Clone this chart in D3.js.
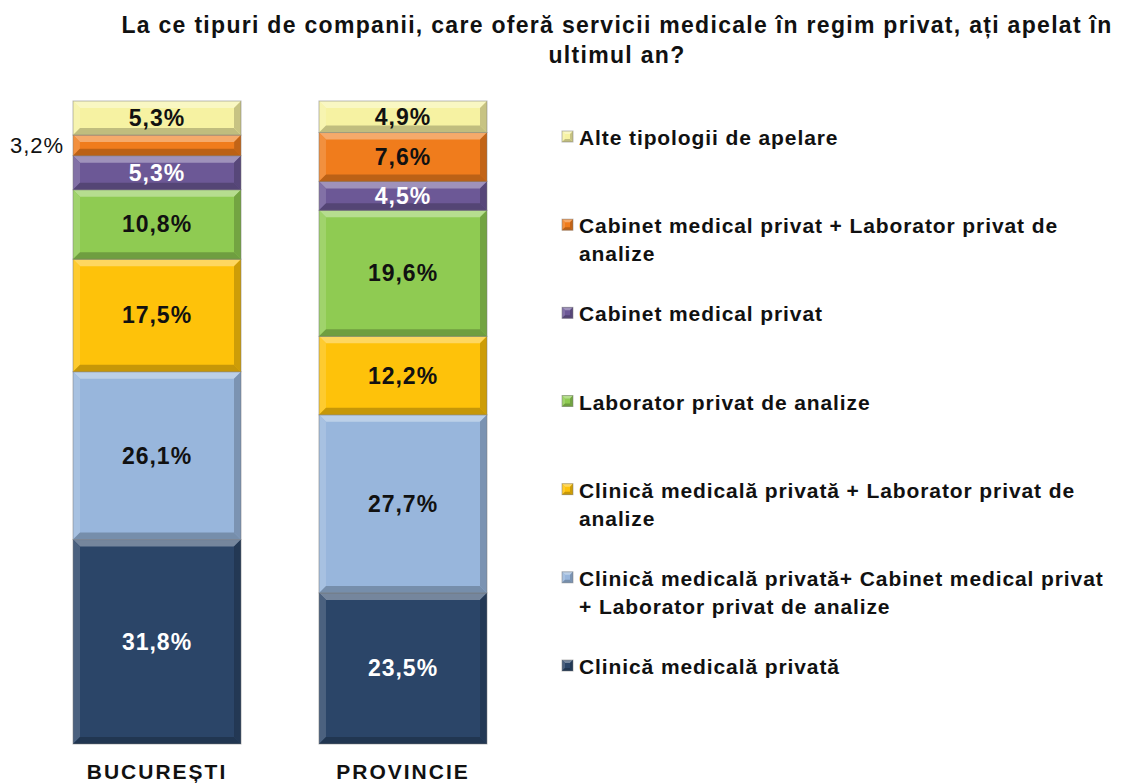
<!DOCTYPE html>
<html>
<head>
<meta charset="utf-8">
<script src="https://cdn.jsdelivr.net/npm/d3@7"></script>
<style>
  body { margin: 0; background: #fff; }
  text { font-family: "Liberation Sans", Arial, sans-serif; }
</style>
</head>
<body>
<svg id="chart" width="1133" height="784"></svg>
<script>
// data
const regions = ["BUCUREȘTI", "PROVINCIE"];
const seriesNames = [
  "Clinică medicală privată",
  "Clinică medicală privată+ Cabinet medical privat\n+ Laborator privat de analize",
  "Clinică medicală privată + Laborator privat de\nanalize",
  "Laborator privat de analize",
  "Cabinet medical privat",
  "Cabinet medical privat + Laborator privat de\nanalize",
  "Alte tipologii de apelare"
];
const bucuresti = [31.8, 26.1, 17.5, 10.8, 5.3, 3.2, 5.3];
const provincie = [23.5, 27.7, 12.2, 19.6, 4.5, 7.6, 4.9];

const colors = ["#2b4568", "#98b6dc", "#fec20a", "#8fcb52", "#6c5896", "#f07c1c", "#f6f2a2"];
const labelColors = ["#fff", "#111", "#111", "#111", "#fff", "#111", "#111"];

const svg = d3.select("#chart");

const rows = regions.map((r, i) => {
  const o = { region: r };
  seriesNames.forEach((s, j) => { o[s] = (i === 0 ? bucuresti : provincie)[j]; });
  return o;
});
const stacked = d3.stack().keys(seriesNames)(rows);

const x = d3.scaleBand().domain(regions).range([73, 487]).paddingInner(0.317).paddingOuter(0);
const y = d3.scaleLinear().domain([0, 100]).range([744, 101]);

// title
svg.append("text")
  .attr("x", 617).attr("y", 33)
  .attr("text-anchor", "middle")
  .style("font-size", "23px").style("font-weight", "bold")
  .style("letter-spacing", "1.3px")
  .attr("fill", "#111")
  .selectAll("tspan")
  .data(["La ce tipuri de companii, care oferă servicii medicale în regim privat, ați apelat în", "ultimul an?"])
  .join("tspan")
  .attr("x", 617).attr("dy", (d, i) => i ? 30 : 0)
  .text(d => d);

// beveled box
const bevel = (g, x0, y0, x1, y1, col, b) => {
  const c = d3.color(col);
  g.append("rect").attr("x", x0).attr("y", y0).attr("width", x1 - x0).attr("height", y1 - y0).attr("fill", col);
  const faces = [
    [[x0, y0], [x1, y0], [x1 - b, y0 + b], [x0 + b, y0 + b], d3.interpolateRgb(col, "#fff")(0.35)],
    [[x0, y0], [x0 + b, y0 + b], [x0 + b, y1 - b], [x0, y1], d3.interpolateRgb(col, "#fff")(0.15)],
    [[x1, y0], [x1, y1], [x1 - b, y1 - b], [x1 - b, y0 + b], c.darker(0.6)],
    [[x0, y1], [x0 + b, y1 - b], [x1 - b, y1 - b], [x1, y1], c.darker(0.7)]
  ];
  faces.forEach(f => {
    g.append("polygon").attr("points", f.slice(0, 4).map(p => p.join(",")).join(" ")).attr("fill", f[4]);
  });
  g.append("rect").attr("x", x0).attr("y", y0).attr("width", x1 - x0).attr("height", y1 - y0)
    .attr("fill", "none").attr("stroke", "rgba(120,120,120,0.5)").attr("stroke-width", 1);
};

const bars = svg.append("g");
stacked.forEach((layer, j) => {
  layer.forEach((d, i) => {
    const x0 = x(regions[i]), x1 = x0 + x.bandwidth();
    const y0 = y(d[1]), y1 = y(d[0]);
    const b = Math.min(7, (y1 - y0) / 3);
    bevel(bars.append("g"), x0, y0, x1, y1, colors[j], b);
  });
});

// data labels
stacked.forEach((layer, j) => {
  layer.forEach((d, i) => {
    const v = d[1] - d[0];
    const cy = (y(d[0]) + y(d[1])) / 2;
    const small = y(d[0]) - y(d[1]) < 25;
    svg.append("text")
      .attr("x", small ? x(regions[i]) - 36 : x(regions[i]) + x.bandwidth() / 2)
      .attr("y", cy + 8)
      .attr("text-anchor", "middle")
      .style("font-size", small ? "22px" : "23px")
      .style("font-weight", small ? "normal" : "bold")
      .style("letter-spacing", "1px")
      .attr("fill", small ? "#111" : labelColors[j])
      .text(d3.format(".1f")(v).replace(".", ",") + "%");
  });
});

// category axis labels
svg.append("g").selectAll("text").data(regions).join("text")
  .attr("x", d => x(d) + x.bandwidth() / 2)
  .attr("y", 779)
  .attr("text-anchor", "middle")
  .style("font-size", "21px").style("font-weight", "bold")
  .style("letter-spacing", "2px")
  .attr("fill", "#111")
  .text(d => d);

// legend (top to bottom = top of stack first)
const legendY = d3.scalePoint().domain(seriesNames.slice().reverse()).range([137, 666]);
const leg = svg.append("g");
seriesNames.forEach((s, j) => {
  const ly = legendY(s);
  bevel(leg.append("g"), 562, ly - 6, 573, ly + 5, colors[j], 3);
  leg.append("text")
    .attr("x", 579).attr("y", ly + 8)
    .style("font-size", "21px").style("font-weight", "bold")
    .style("letter-spacing", "0.9px")
    .attr("fill", "#111")
    .selectAll("tspan").data(s.split("\n")).join("tspan")
    .attr("x", 579).attr("dy", (d, k) => k ? 28 : 0)
    .text(d => d);
});
</script>
</body>
</html>
